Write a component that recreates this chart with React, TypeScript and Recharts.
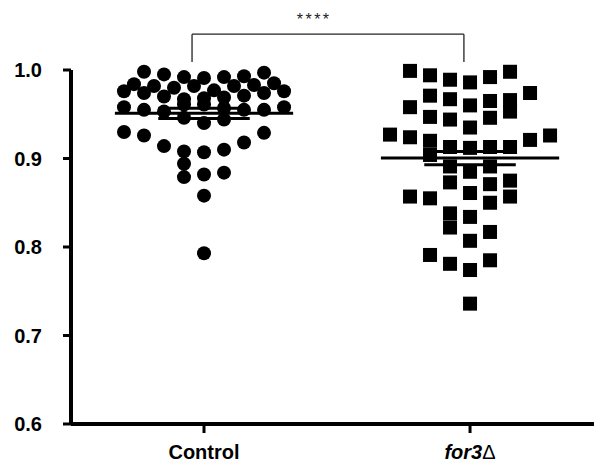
import React from 'react';
import { ScatterChart, Scatter, XAxis, YAxis, ReferenceLine, ReferenceDot } from 'recharts';

// Categories (x positions 0 and 1 on a numeric category axis)
const categories = ['Control', 'for3Δ'];
const categoryPos = [0, 1];

// Y axis ticks
const yTicks = [0.6, 0.7, 0.8, 0.9, 1.0];

// Control: swarm slot (column) and value of each point
const controlSlots = [
  -3, -2, -1, 0, 1, 2, 3,
  -3.5, -2.5, -1.5, -0.5, 0.5, 1.5, 2.5, 3.5,
  -4, -3, -2, -1, 0, 1, 2, 3, 4,
  -4, -3, -2, -1, 0, 1, 2, 3, 4,
  -1, 0, 1,
  -4, -3, -2, -1, 0, 1, 2, 3,
  -1, -1, 0, 1,
  0, 0,
];
const controlValues = [
  0.998, 0.995, 0.992, 0.991, 0.992, 0.993, 0.997,
  0.984, 0.982, 0.98, 0.982, 0.977, 0.982, 0.983, 0.985,
  0.976, 0.974, 0.97, 0.967, 0.968, 0.969, 0.971, 0.974, 0.976,
  0.958, 0.955, 0.953, 0.961, 0.961, 0.957, 0.955, 0.955, 0.958,
  0.946, 0.94, 0.944,
  0.93, 0.926, 0.914, 0.908, 0.907, 0.91, 0.918, 0.929,
  0.894, 0.879, 0.882, 0.884,
  0.858, 0.793,
];

// for3Δ: swarm slot and value of each point
const for3Slots = [
  -3, -2, -1, 0, 1, 2,
  3, -2, -1, 0, 1, 2, 2,
  -3, -2, -1, 1, 0,
  -4, -3, 3, 4, -2,
  -2, -1, 0, 1, 2,
  -1, 0, 1, 2, -1, 1,
  0, -3, -2, 2, 1,
  -1, 0, -1, 1, 0,
  -2, -1, 1, 0, 0,
];
const for3Values = [
  0.999, 0.994, 0.989, 0.986, 0.992, 0.998,
  0.974, 0.971, 0.967, 0.96, 0.965, 0.966, 0.953,
  0.958, 0.947, 0.944, 0.946, 0.935,
  0.927, 0.924, 0.921, 0.926, 0.92,
  0.904, 0.913, 0.912, 0.913, 0.913,
  0.891, 0.885, 0.891, 0.875, 0.873, 0.871,
  0.861, 0.857, 0.855, 0.857, 0.85,
  0.838, 0.834, 0.822, 0.817, 0.807,
  0.791, 0.781, 0.785, 0.774, 0.736,
];

// Summary statistics (mean ± SEM)
const means = [0.951, 0.9005];
const sems = [0.0057, 0.0075];

// Significance bracket
const bracketX = [-0.045, 0.977];
const bracketTop = 1.0405;
const bracketBottom = 1.009;
const sigText = '****';
const sigX = 0.414;
const sigY = 1.0575;

const SLOT = 0.0752; // width of one swarm column in category units
const MEAN_HALF = 0.335;
const CAP_HALF = 0.172;

const FONT = '"Liberation Sans", Arial, Helvetica, sans-serif';

const controlData = controlValues.map((v, i) => ({ x: categoryPos[0] + controlSlots[i] * SLOT, y: v }));
const for3Data = for3Values.map((v, i) => ({ x: categoryPos[1] + for3Slots[i] * SLOT, y: v }));

const CircleShape = (props: any) => <circle cx={props.cx} cy={props.cy} r={7} fill="#000" />;
const SquareShape = (props: any) => <rect x={props.cx - 7} y={props.cy - 7} width={14} height={14} fill="#000" />;

const XTick = (props: any) => {
  const { x, y, payload } = props;
  const idx = categoryPos.indexOf(payload.value);
  const label = categories[idx] ?? '';
  if (label === 'for3Δ') {
    return (
      <text x={x} y={y} dy="0.71em" textAnchor="middle" fontFamily={FONT} fontSize={20} fill="#000">
        <tspan fontWeight="bold" fontStyle="italic">for3</tspan>
        <tspan>Δ</tspan>
      </text>
    );
  }
  return (
    <text x={x} y={y} dy="0.71em" textAnchor="middle" fontFamily={FONT} fontSize={20} fontWeight="bold" fill="#000">
      {label}
    </text>
  );
};

export default function App() {
  const lineProps = { stroke: '#000', strokeWidth: 3, ifOverflow: 'visible' as const };
  return (
    <div style={{ position: 'absolute', left: 0, top: 0, width: 594, height: 466, background: '#fff' }}>
      <ScatterChart width={594} height={466} margin={{ top: 70, right: 0, bottom: 2, left: 0 }}>
        <XAxis
          type="number"
          dataKey="x"
          domain={[-0.5, 1.466]}
          ticks={categoryPos}
          allowDataOverflow
          height={40}
          axisLine={{ stroke: '#000', strokeWidth: 4 }}
          tickLine={{ stroke: '#000', strokeWidth: 3 }}
          tickSize={9}
          tickMargin={12}
          tick={<XTick />}
          interval={0}
        />
        <YAxis
          type="number"
          dataKey="y"
          domain={[0.6, 1.0]}
          ticks={yTicks}
          width={71}
          axisLine={{ stroke: '#000', strokeWidth: 4 }}
          tickLine={{ stroke: '#000', strokeWidth: 3 }}
          tickSize={8}
          tickMargin={21}
          tickFormatter={(v: number) => v.toFixed(1)}
          tick={{ fill: '#000', fontSize: 20, fontWeight: 'bold', fontFamily: FONT }}
          interval={0}
        />
        <Scatter data={controlData} shape={CircleShape} isAnimationActive={false} />
        <Scatter data={for3Data} shape={SquareShape} isAnimationActive={false} />
        {categoryPos.map((c, i) => (
          <ReferenceLine key={`m${i}`} {...lineProps} segment={[{ x: c - MEAN_HALF, y: means[i] }, { x: c + MEAN_HALF, y: means[i] }]} />
        ))}
        {categoryPos.map((c, i) => (
          <ReferenceLine key={`u${i}`} {...lineProps} segment={[{ x: c - CAP_HALF, y: means[i] + sems[i] }, { x: c + CAP_HALF, y: means[i] + sems[i] }]} />
        ))}
        {categoryPos.map((c, i) => (
          <ReferenceLine key={`l${i}`} {...lineProps} segment={[{ x: c - CAP_HALF, y: means[i] - sems[i] }, { x: c + CAP_HALF, y: means[i] - sems[i] }]} />
        ))}
        <ReferenceLine stroke="#222" strokeWidth={1.3} ifOverflow="visible" segment={[{ x: bracketX[0], y: bracketTop }, { x: bracketX[1], y: bracketTop }]} />
        <ReferenceLine stroke="#222" strokeWidth={1.3} ifOverflow="visible" segment={[{ x: bracketX[0], y: bracketTop }, { x: bracketX[0], y: bracketBottom }]} />
        <ReferenceLine stroke="#222" strokeWidth={1.3} ifOverflow="visible" segment={[{ x: bracketX[1], y: bracketTop }, { x: bracketX[1], y: bracketBottom }]} />
        <ReferenceDot
          x={sigX}
          y={sigY}
          r={0}
          fill="none"
          stroke="none"
          ifOverflow="visible"
          label={{ value: sigText, position: 'center', fontSize: 16, fill: '#222', fontFamily: FONT, letterSpacing: 2.5 }}
        />
      </ScatterChart>
    </div>
  );
}
